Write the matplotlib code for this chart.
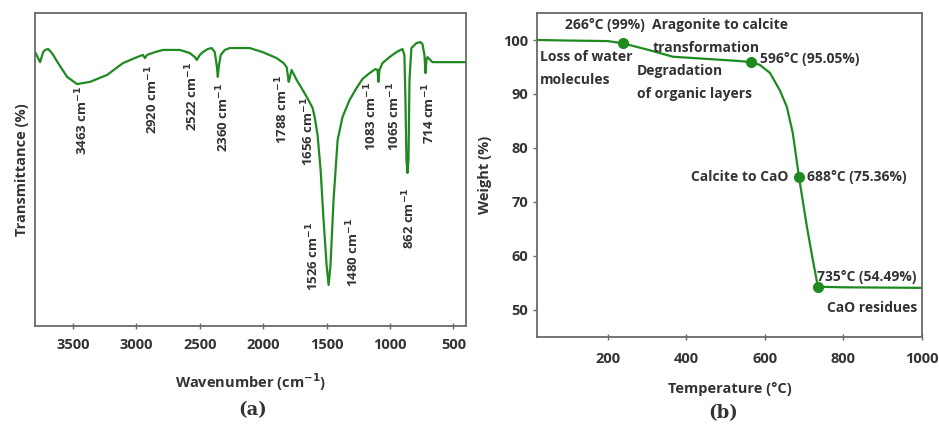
import matplotlib
matplotlib.use("Agg")
import matplotlib.pyplot as plt
import numpy as np

plt.rcParams['font.family'] = ['Open Sans', 'DejaVu Sans']
plt.rcParams['font.weight'] = 'bold'
plt.rcParams['mathtext.default'] = 'bf'

# FTIR spectrum
wavenumber = [3799, 3760, 3736, 3720, 3697, 3681, 3657, 3618, 3547, 3469, 3366, 3232,
              3106, 2996, 2949, 2933, 2917, 2854, 2791, 2657, 2579, 2539, 2524, 2500,
              2476, 2437, 2406, 2382, 2366, 2358, 2350, 2335, 2303, 2264, 2106, 2004,
              1894, 1839, 1815, 1807, 1799, 1791, 1776, 1736, 1697, 1657, 1626, 1610,
              1594, 1571, 1547, 1524, 1500, 1484, 1469, 1445, 1413, 1374, 1319, 1264,
              1217, 1161, 1114, 1098, 1091, 1083, 1059, 1004, 949, 902, 886, 878, 870,
              862, 854, 846, 831, 791, 760, 744, 728, 720, 712, 704, 665, 587, 405]
transmittance = [87.5, 84.3, 87.5, 88.2, 88.5, 87.9, 86.6, 84.0, 79.6, 77.3, 78.0, 80.2,
                 84.0, 85.9, 86.6, 85.6, 86.6, 87.5, 88.2, 88.2, 87.2, 85.9, 85.0, 86.6,
                 87.5, 88.5, 88.8, 87.5, 83.1, 79.6, 83.1, 86.6, 88.2, 88.8, 88.8, 87.5,
                 85.6, 84.0, 82.7, 80.5, 78.0, 79.2, 81.8, 78.6, 76.0, 73.2, 70.9, 69.6,
                 66.8, 61.0, 49.8, 33.9, 19.5, 13.1, 19.5, 40.3, 59.4, 66.8, 72.2, 76.0,
                 78.9, 80.8, 82.1, 81.8, 78.0, 81.8, 84.0, 85.9, 87.5, 88.5, 86.6, 72.2,
                 53.0, 48.9, 53.0, 78.6, 88.8, 90.4, 90.7, 90.1, 86.6, 80.8, 85.0, 85.9,
                 84.3, 84.3, 84.3]

peak_labels = ['3463', '2920', '2522', '2360', '1788', '1656', '1526', '1480',
               '1083', '1065', '862', '714']
peak_label_x = [3429, 2878, 2563, 2319, 1854, 1650, 1610, 1295, 1146, 965, 846, 689]
peak_label_y = [76.7, 83.4, 84.3, 77.6, 80.2, 73.2, 33.2, 34.5, 78.0, 78.0, 44.4, 78.0]

# TGA curve
temperature = [20, 100, 200, 238, 270, 307, 366, 452, 536, 564, 587, 613, 638, 656,
               671, 687, 707, 722, 735, 800, 900, 1000]
weight = [100.0, 99.9, 99.8, 99.4, 98.8, 98.1, 96.9, 96.5, 96.1, 95.9, 95.4, 93.9,
          90.7, 87.6, 82.8, 74.6, 65.4, 59.3, 54.3, 54.2, 54.15, 54.1]
marker_t = [238, 564, 687, 735]
marker_w = [99.4, 95.9, 74.6, 54.3]

green = '#1f8a1f'
txt = '#333333'
spine = '#6a6a6a'

fig = plt.figure(figsize=(9.39, 4.25), dpi=100)
ax1 = fig.add_axes([0.0373, 0.2329, 0.459, 0.7365])
ax2 = fig.add_axes([0.5719, 0.2071, 0.410, 0.7623])

sup = r' cm$^{\mathbf{-1}}$'

# ---- (a) FTIR
ax1.plot(wavenumber, transmittance, color=green, lw=1.6, solid_joinstyle='round')
for lab, x, y in zip(peak_labels, peak_label_x, peak_label_y):
    ax1.text(x, y, lab + sup, rotation=90, ha='center', va='top',
             fontsize=9.5, color=txt, fontweight='bold')
ax1.set_xlim(3800, 400)
ax1.set_ylim(0, 100)
ax1.set_xticks([3500, 3000, 2500, 2000, 1500, 1000, 500])
ax1.set_yticks([])
ax1.tick_params(axis='x', direction='inout', length=5, width=1, colors=spine,
                labelcolor=txt, labelsize=10.5, pad=6)
ax1.set_xlabel('Wavenumber (cm' + r'$^{\mathbf{-1}}$' + ')', fontsize=10.5, color=txt,
               fontweight='bold', labelpad=14)
ax1.set_ylabel('Transmittance (%)', fontsize=10.5, color=txt, fontweight='bold',
               labelpad=4)
ax1.text(0.506, -0.268, '(a)', transform=ax1.transAxes, ha='center', va='center',
         fontsize=13, color=txt, family='DejaVu Serif', fontweight='bold')

# ---- (b) TGA
ax2.plot(temperature, weight, color=green, lw=1.6, solid_joinstyle='round')
ax2.plot(marker_t, marker_w, 'o', color=green, markersize=7)
fs = 10
ax2.text(90, 102.8, '266°C (99%)', ha='left', va='center', fontsize=fs, color=txt)
ax2.text(312, 102.8, 'Aragonite to calcite', ha='left', va='center', fontsize=fs, color=txt)
ax2.text(315, 98.5, 'transformation', ha='left', va='center', fontsize=fs, color=txt)
ax2.text(27, 96.9, 'Loss of water', ha='left', va='center', fontsize=fs, color=txt)
ax2.text(27, 92.6, 'molecules', ha='left', va='center', fontsize=fs, color=txt)
ax2.text(274, 94.3, 'Degradation', ha='left', va='center', fontsize=fs, color=txt)
ax2.text(274, 90.0, 'of organic layers', ha='left', va='center', fontsize=fs, color=txt)
ax2.text(587, 96.5, '596°C (95.05%)', ha='left', va='center', fontsize=fs, color=txt)
ax2.text(661, 74.6, 'Calcite to CaO', ha='right', va='center', fontsize=fs, color=txt)
ax2.text(707, 74.6, '688°C (75.36%)', ha='left', va='center', fontsize=fs, color=txt)
ax2.text(732, 56.1, '735°C (54.49%)', ha='left', va='center', fontsize=fs, color=txt)
ax2.text(987, 50.4, 'CaO residues', ha='right', va='center', fontsize=fs, color=txt)
ax2.set_xlim(20, 1000)
ax2.set_ylim(45, 105)
ax2.set_xticks([200, 400, 600, 800, 1000])
ax2.set_yticks([50, 60, 70, 80, 90, 100])
ax2.tick_params(axis='x', direction='inout', length=5, width=1, colors=spine,
                labelcolor=txt, labelsize=10.5, pad=8)
ax2.tick_params(axis='y', direction='out', length=3, width=1, colors=spine,
                labelcolor=txt, labelsize=10.5)
ax2.set_xlabel('Temperature (°C)', fontsize=10.5, color=txt, fontweight='bold',
               labelpad=12)
ax2.set_ylabel('Weight (%)', fontsize=10.5, color=txt, fontweight='bold', labelpad=8)
ax2.text(0.483, -0.235, '(b)', transform=ax2.transAxes, ha='center', va='center',
         fontsize=13, color=txt, family='DejaVu Serif', fontweight='bold')

for ax in (ax1, ax2):
    for s in ax.spines.values():
        s.set_color(spine)
        s.set_linewidth(1.3)

plt.savefig('out.png', dpi=100)
